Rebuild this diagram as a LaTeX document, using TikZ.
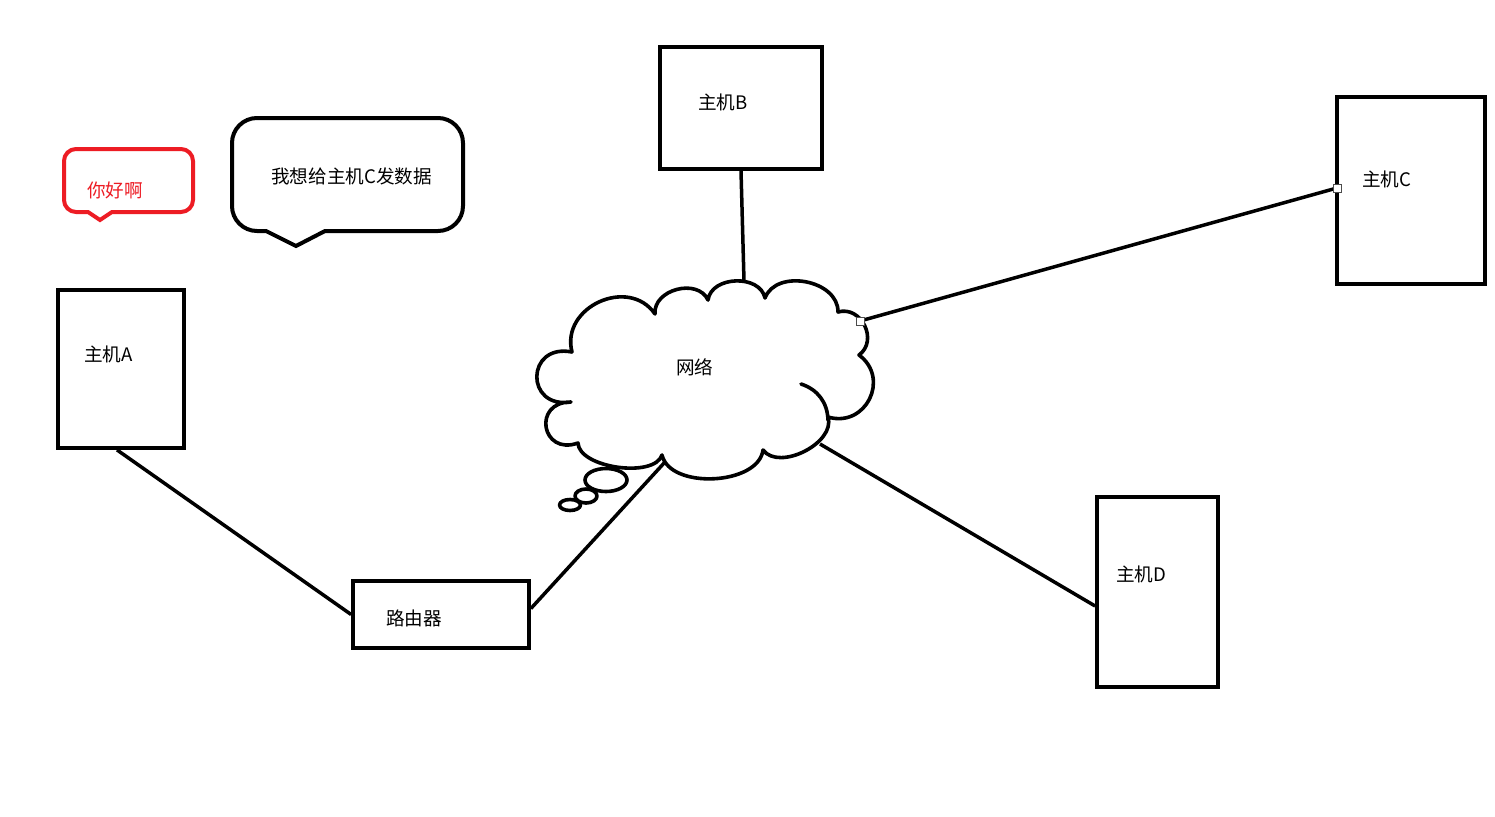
\documentclass[tikz,border=0pt]{standalone}
\usepackage{fontspec}
\setmainfont{Noto Sans CJK SC}
\definecolor{paintred}{RGB}{237,28,36}
\tikzset{%
  host/.style = {rectangle,draw,line width=3.8pt,inner sep=0pt},
  txt/.style = {anchor=west,inner sep=0pt,font=\fontsize{18.6}{22}\selectfont},
  link/.style = {line width=3.5pt},
  puff/.style = {line width=3.6pt,line join=round,line cap=round},
  handle/.style = {rectangle,draw=black!70,fill=white,line width=1pt,
        minimum size=8pt,inner sep=0pt}
}

\begin{document}
\begin{tikzpicture}[x=1pt,y=1pt]
\useasboundingbox[fill=white] (0,0) rectangle (1495,-816);

% hosts and router
\node[host,minimum width=126,minimum height=158] (hostA) at (121,-369) {};
\node[host,minimum width=162,minimum height=122] (hostB) at (741,-108) {};
\node[host,minimum width=148,minimum height=187] (hostC) at (1411,-190.5) {};
\node[host,minimum width=121,minimum height=190] (hostD) at (1157.5,-592) {};
\node[host,minimum width=176,minimum height=67] (router) at (441,-614.5) {};

\node[txt] (labA) at (84,-354) {主机A};
\node[txt] (labB) at (698,-102) {主机B};
\node[txt] (labC) at (1362,-179) {主机C};
\node[txt] (labD) at (1116,-574) {主机D};
\node[txt] (labR) at (386,-618) {路由器};

% cloud
\draw[puff] (572,-352) to[bend left=80,looseness=1.3] (655,-314)
  to[bend left=80,looseness=1.15] (708,-300)
  to[bend left=80,looseness=1.1] (765,-298)
  to[bend left=80,looseness=1.1] (838,-312)
  to[bend left=80,looseness=1.3] (859,-355)
  to[bend left=80,looseness=1.45] (828,-417)
  to[bend left=80,looseness=0.95] (763,-450)
  to[bend left=80,looseness=0.9] (662,-455)
  to[bend left=80,looseness=0.75] (578,-443)
  to[bend left=100,looseness=2.4] (571,-402)
  to[bend left=100,looseness=2.4] (572,-352);
\draw[puff] (801,-384) to[bend left=35] (828,-420);
\draw[puff] (606,-480) ellipse[x radius=21,y radius=11.5];
\draw[puff] (586,-496) ellipse[x radius=11,y radius=7];
\draw[puff] (570,-505) ellipse[x radius=10.5,y radius=5.5];
\node[txt] (net) at (676,-367) {网络};

\coordinate (netB) at (744,-281);
\coordinate (netC) at (860,-321);
\coordinate (netD) at (820,-444);
\coordinate (netR) at (665,-462);

% speech bubbles
\draw[line width=4pt,paintred] (100,-220) -- (88,-212)
  [rounded corners=12] -- (64,-212) -- (64,-149) -- (193,-149) -- (193,-212)
  [sharp corners] -- (112,-212) -- cycle;
\node[txt,text=paintred] (hi) at (87,-190) {你好啊};

\draw[line width=4pt] (296,-246) -- (266,-231)
  [rounded corners=25] -- (232,-231) -- (232,-118) -- (463,-118) -- (463,-231)
  [sharp corners] -- (325,-231) -- cycle;
\node[txt] (wish) at (271,-176) {我想给主机C发数据};

% links
\draw[link] ([xshift=-4]hostA.south) -- (router.west);
\draw[link] ([yshift=6]router.east) -- (netR);
\draw[link] (hostB.south) -- (netB);
\draw[link] (netC) -- ([yshift=2]hostC.west);
\draw[link] (netD) -- ([yshift=-14]hostD.west);
\node[handle] (h1) at (netC) {};
\node[handle] (h2) at ([xshift=2,yshift=2]hostC.west) {};
\end{tikzpicture}
\end{document}
